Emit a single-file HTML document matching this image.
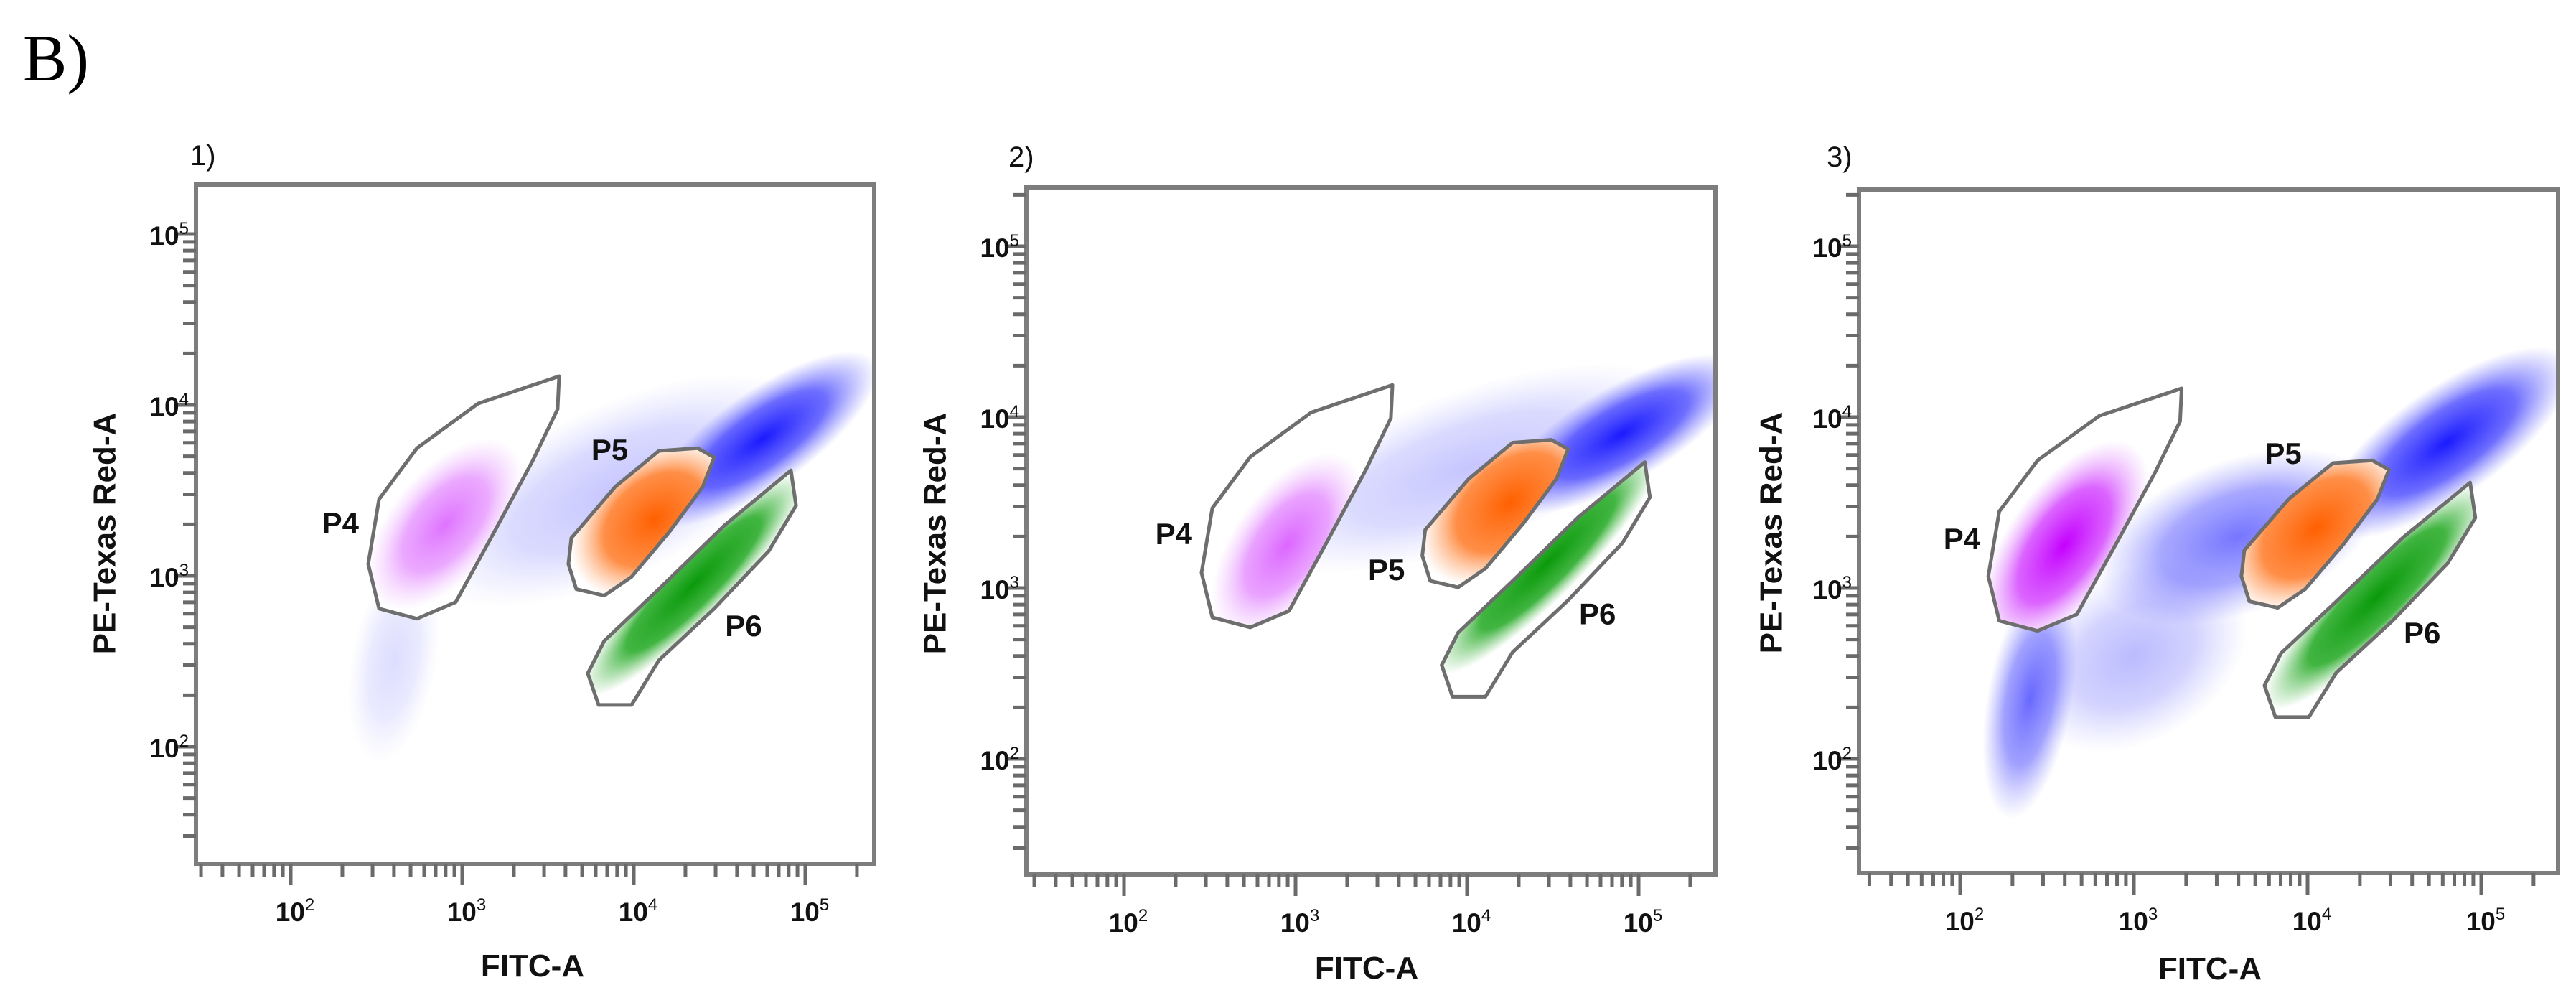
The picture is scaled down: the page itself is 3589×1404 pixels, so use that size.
<!DOCTYPE html>
<html><head><meta charset="utf-8"><style>
html,body{margin:0;padding:0;background:#fff}
svg{display:block}
text{font-family:"Liberation Sans",Arial,sans-serif}
</style></head><body>
<svg id="fig" width="3589" height="1404" viewBox="0 0 3589 1404">
<defs>
<radialGradient id="g-blue"><stop offset="0" stop-color="#1a1aff" stop-opacity="1"/><stop offset="0.55" stop-color="#3030ff" stop-opacity="0.7"/><stop offset="1" stop-color="#6060ff" stop-opacity="0"/></radialGradient>
<radialGradient id="g-magenta"><stop offset="0" stop-color="#c400ff" stop-opacity="1"/><stop offset="0.55" stop-color="#cc22ff" stop-opacity="0.7"/><stop offset="1" stop-color="#e080ff" stop-opacity="0"/></radialGradient>
<radialGradient id="g-orange"><stop offset="0" stop-color="#ff6000" stop-opacity="1"/><stop offset="0.6" stop-color="#ff7a26" stop-opacity="0.85"/><stop offset="1" stop-color="#ffa060" stop-opacity="0"/></radialGradient>
<radialGradient id="g-green"><stop offset="0" stop-color="#0a9a0a" stop-opacity="1"/><stop offset="0.6" stop-color="#20a820" stop-opacity="0.85"/><stop offset="1" stop-color="#60c060" stop-opacity="0"/></radialGradient>
</defs>
<text x="32" y="112" font-size="92" fill="#000" style="font-family:'Liberation Serif',serif">B)</text>
</svg>
<script>
// ---- data (log10 units) ----
const panelTitles = ["1)", "2)", "3)"];
const xTickLabels = ["2", "3", "4", "5"];
const yTickLabels = ["2", "3", "4", "5"];
// gate polygons (log10 FITC-A, log10 PE-Texas Red-A)
const gateP4X = [3.565, 3.092, 2.736, 2.515, 2.452, 2.515, 2.736, 2.962, 3.188, 3.410, 3.556];
const gateP4Y = [4.168, 4.008, 3.747, 3.448, 3.069, 2.808, 2.749, 2.846, 3.259, 3.672, 3.975];
const gateP5X = [3.636, 3.891, 4.146, 4.372, 4.469, 4.402, 4.209, 3.987, 3.828, 3.665, 3.619];
const gateP5Y = [3.221, 3.520, 3.731, 3.747, 3.693, 3.520, 3.259, 2.994, 2.884, 2.922, 3.069];
const gateP6X = [4.916, 4.946, 4.787, 4.469, 4.146, 3.987, 3.795, 3.732, 3.828, 4.146, 4.531];
const gateP6Y = [3.617, 3.411, 3.145, 2.808, 2.505, 2.244, 2.244, 2.429, 2.619, 2.922, 3.297];
// per-panel gate offsets [dx, dy]
const gateShiftP4 = [[0, 0], [0.0, 0.02], [-0.29, 0.0]];
const gateShiftP5 = [[0, 0], [0.12, 0.12], [0.0, 0.0]];
const gateShiftP6 = [[0, 0], [0.12, 0.12], [0.02, 0.0]];
// gate label positions per panel
const labelP4 = [[2.29, 3.31], [2.29, 3.32], [2.01, 3.29]];
const labelP5 = [[3.86, 3.74], [3.53, 3.11], [3.86, 3.79]];
const labelP6 = [[4.64, 2.71], [4.76, 2.85], [4.66, 2.74]];
// population density blobs: [pop, cx, cy, rx, ry, angleDeg, alpha]
const panel1Blobs = [
 ["blue", 3.9, 3.5, 1.2, 0.5, 25, 0.25],
 ["blue", 2.6, 2.5, 0.6, 0.25, 80, 0.15],
 ["blue", 4.75, 3.8, 0.8, 0.28, 35, 1],
 ["magenta", 2.9, 3.3, 0.6, 0.32, 50, 0.55],
 ["orange", 4.12, 3.33, 0.55, 0.38, 40, 1],
 ["green", 4.35, 2.95, 0.9, 0.2, 45, 1]
];
const panel2Blobs = [
 ["blue", 4.0, 3.7, 1.3, 0.45, 20, 0.25],
 ["blue", 4.9, 3.9, 0.8, 0.28, 30, 1],
 ["magenta", 2.95, 3.25, 0.62, 0.32, 55, 0.6],
 ["orange", 4.25, 3.5, 0.6, 0.38, 40, 1],
 ["green", 4.47, 3.15, 0.9, 0.2, 45, 1]
];
const panel3Blobs = [
 ["blue", 3.0, 2.6, 0.7, 0.5, 30, 0.3],
 ["blue", 3.6, 3.3, 0.85, 0.45, 20, 0.6],
 ["blue", 2.4, 2.35, 0.7, 0.25, 80, 0.65],
 ["blue", 4.8, 3.85, 0.85, 0.32, 35, 1],
 ["magenta", 2.6, 3.25, 0.7, 0.34, 55, 1],
 ["orange", 4.05, 3.35, 0.6, 0.38, 40, 1],
 ["green", 4.4, 2.95, 0.9, 0.22, 45, 1]
];
const panelBlobs = [panel1Blobs, panel2Blobs, panel3Blobs];

// ---- layout ----
const layout = [
 {box:[273,257,1218,1203], x0:405, dx:239, y0:1040, dy:238, title:[265,230], yt:[146,743], xt:[742,1345]},
 {box:[1430,261,2390,1218], x0:1566, dx:239, y0:1057, dy:238, title:[1405,232], yt:[1303,743], xt:[1904,1348]},
 {box:[2590,264,3564,1216], x0:2731, dx:242, y0:1057, dy:238, title:[2545,232], yt:[2468,742], xt:[3079,1349]}
];
const NS = "http://www.w3.org/2000/svg";
const svg = document.getElementById("fig");
function mk(tag, attrs, parent){ const e = document.createElementNS(NS, tag); for (const k in attrs) e.setAttribute(k, attrs[k]); (parent||svg).appendChild(e); return e; }

layout.forEach((L, p) => {
  const sx = v => L.x0 + (v - 2) * L.dx;
  const sy = v => L.y0 - (v - 2) * L.dy;
  const [bx1, by1, bx2, by2] = L.box;
  const g = mk("g", {});
  
  

  const t = mk("text", {x:L.title[0], y:L.title[1], "font-size":40, fill:"#111"}, g);
  t.textContent = panelTitles[p];
  
  

  const clipId = "clip" + p;
  const cp = mk("clipPath", {id: clipId}, g);
  mk("rect", {x:bx1, y:by1, width:bx2-bx1, height:by2-by1}, cp);

  const gates = [
    ["P4", gateP4X, gateP4Y, gateShiftP4[p], "magenta", labelP4[p]],
    ["P5", gateP5X, gateP5Y, gateShiftP5[p], "orange", labelP5[p]],
    ["P6", gateP6X, gateP6Y, gateShiftP6[p], "green", labelP6[p]]
  ];
  const gatePts = gates.map(gt => gt[1].map((v, i) => sx(v + gt[3][0]) + "," + sy(gt[2][i] + gt[3][1])).join(" "));
  gates.forEach((gt, i) => {
    const c = mk("clipPath", {id: "gc" + p + gt[0]}, g);
    mk("polygon", {points: gatePts[i]}, c);
  });

  const plot = mk("g", {"clip-path": "url(#" + clipId + ")"}, g);
  const blobs = panelBlobs[p];
  const drawBlob = (b, parent) => {
    const cx = sx(b[1]), cy = sy(b[2]);
    const e = mk("ellipse", {cx:cx, cy:cy, rx:b[3]*L.dx, ry:b[4]*L.dy, fill:"url(#g-" + b[0] + ")", opacity:b[6],
      transform:"rotate(" + (-b[5]) + " " + cx + " " + cy + ")"}, parent);
    
    
  };
  blobs.filter(b => b[0] === "blue").forEach(b => drawBlob(b, plot));
  gates.forEach((gt, i) => {
    mk("polygon", {points: gatePts[i], fill:"#fff"}, plot);
    const gg = mk("g", {"clip-path": "url(#gc" + p + gt[0] + ")"}, plot);
    blobs.filter(b => b[0] === gt[4]).forEach(b => drawBlob(b, gg));
  });
  gates.forEach((gt, i) => {
    const pg = mk("polygon", {points: gatePts[i], fill:"none", stroke:"#6e6e6e", "stroke-width":5, "stroke-linejoin":"round"}, plot);
    
    
    const lt = mk("text", {x:sx(gt[5][0]), y:sy(gt[5][1]) + 15, "font-size":42, "font-weight":"bold", "text-anchor":"middle", fill:"#111"}, g);
    lt.textContent = gt[0];
    
    
  });

  const box = mk("rect", {x:bx1, y:by1, width:bx2-bx1, height:by2-by1, fill:"none", stroke:"#7d7d7d", "stroke-width":6}, g);
  
  

  for (let d = 1; d <= 5; d++) {
    for (let k = 1; k <= 9; k++) {
      const v = d + Math.log10(k);
      const X = sx(v), Y = sy(v);
      const len = k === 1 ? 30 : 18;
      if (X > bx1 + 4 && X < bx2 - 2) mk("line", {x1:X, y1:by2, x2:X, y2:by2 + len, stroke:"#6a6a6a", "stroke-width":5}, g);
      if (Y < by2 - 4 && Y > by1 + 4) mk("line", {x1:bx1, y1:Y, x2:bx1 - len, y2:Y, stroke:"#6a6a6a", "stroke-width":5}, g);
    }
  }
  xTickLabels.forEach(s => {
    const v = +s;
    const tx = mk("text", {x:sx(v) + 6, y:by2 + 80, "font-size":37, "font-weight":"bold", "text-anchor":"middle", fill:"#111"}, g);
    tx.innerHTML = '10<tspan font-size="24" font-weight="normal" dy="-15">' + s + '</tspan>';
    
    
  });
  yTickLabels.forEach(s => {
    const v = +s;
    const ty = mk("text", {x:bx1 - 10, y:sy(v) + 15, "font-size":37, "font-weight":"bold", "text-anchor":"end", fill:"#111"}, g);
    ty.innerHTML = '10<tspan font-size="24" font-weight="normal" dy="-15">' + s + '</tspan>';
    
    
  });
  const yt = mk("text", {x:L.yt[0], y:L.yt[1], "font-size":44, "font-weight":"bold", "text-anchor":"middle", fill:"#111",
    transform:"rotate(-90 " + L.yt[0] + " " + L.yt[1] + ")", "dominant-baseline":"central"}, g);
  yt.textContent = "PE-Texas Red-A";
  
  
  const xt = mk("text", {x:L.xt[0], y:L.xt[1] + 15, "font-size":44, "font-weight":"bold", "text-anchor":"middle", fill:"#111"}, g);
  xt.textContent = "FITC-A";
  
  
});
</script>
</body></html>
